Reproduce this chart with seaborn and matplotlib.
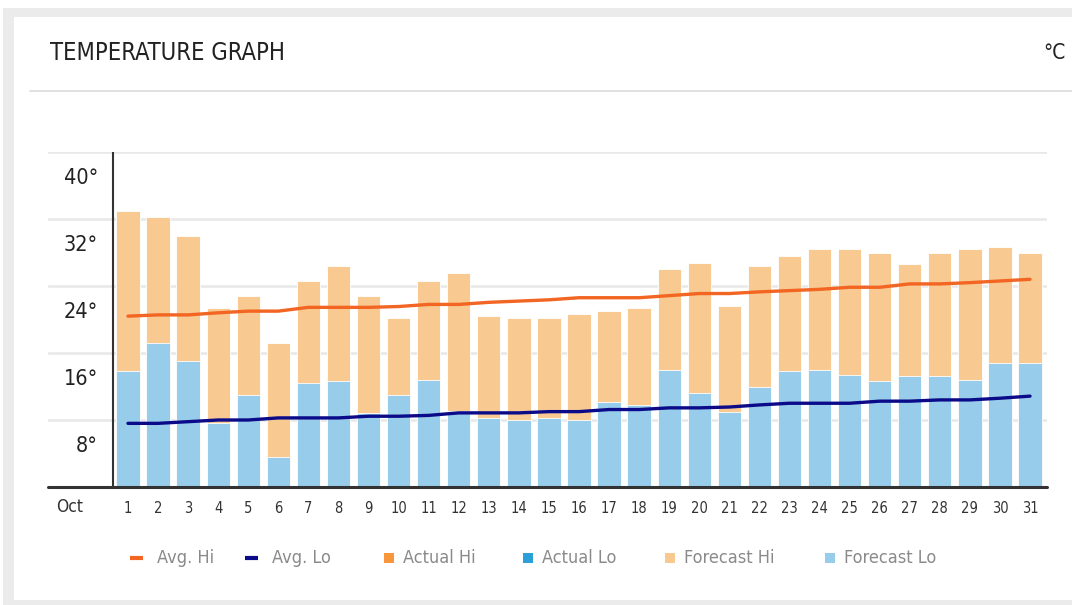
import matplotlib
matplotlib.use("Agg")
import matplotlib.pyplot as plt
import matplotlib.transforms as mtransforms
from matplotlib.patches import Rectangle
import pandas as pd
import seaborn as sns

days = list(range(1, 32))
forecast_hi = [33.0, 32.2, 30.0, 21.4, 22.8, 17.2, 24.6, 26.4, 22.8, 20.2,
               24.6, 25.6, 20.4, 20.2, 20.2, 20.6, 21.0, 21.4, 26.0, 26.8,
               21.6, 26.4, 27.6, 28.4, 28.4, 28.0, 26.6, 28.0, 28.4, 28.6, 28.0]
forecast_lo = [13.8, 17.2, 15.0, 7.7, 11.0, 3.6, 12.4, 12.6, 8.8, 11.0,
               12.8, 9.1, 8.2, 8.0, 8.2, 8.0, 10.2, 9.8, 14.0, 11.2,
               9.0, 12.0, 13.8, 14.0, 13.4, 12.6, 13.2, 13.2, 12.8, 14.8, 14.8]
avg_hi = [20.4, 20.55, 20.55, 20.8, 21.0, 21.0, 21.45, 21.45, 21.45, 21.55,
          21.8, 21.8, 22.05, 22.2, 22.35, 22.6, 22.6, 22.6, 22.85, 23.1,
          23.1, 23.3, 23.45, 23.6, 23.85, 23.85, 24.25, 24.25, 24.4, 24.6, 24.8]
avg_lo = [7.6, 7.6, 7.8, 8.0, 8.0, 8.25, 8.25, 8.25, 8.45, 8.45,
          8.55, 8.85, 8.85, 8.85, 9.0, 9.0, 9.25, 9.25, 9.45, 9.45,
          9.55, 9.8, 10.0, 10.0, 10.0, 10.25, 10.25, 10.4, 10.4, 10.6, 10.85]
y_ticks = [8, 16, 24, 32, 40]

legend_items = [("line", "#f26522", "Avg. Hi"), ("line", "#0b0b8a", "Avg. Lo"),
                ("box", "#f7963c", "Actual Hi"), ("box", "#2b9fd8", "Actual Lo"),
                ("box", "#f8c990", "Forecast Hi"), ("box", "#97cdea", "Forecast Lo")]

sns.set_theme(style="white")
plt.rcParams["font.family"] = ["DejaVu Sans"]
plt.rcParams["font.stretch"] = "condensed"

df = pd.DataFrame({"day": days, "hi": forecast_hi, "lo": forecast_lo,
                   "avg_hi": avg_hi, "avg_lo": avg_lo})

W, H = 1072, 605
fig = plt.figure(figsize=(W / 100, H / 100), dpi=100, facecolor="white")

# page background + white card
fig.patches.append(Rectangle((3 / W, 0), 1, 1 - 8 / H, transform=fig.transFigure,
                             facecolor="#ebebeb", edgecolor="none", zorder=-3))
fig.patches.append(Rectangle((14 / W, 1 - 600 / H), 1, (600 - 17) / H, transform=fig.transFigure,
                             facecolor="white", edgecolor="none", zorder=-2))
fig.add_artist(plt.Line2D([30 / W, 1], [1 - 91 / H, 1 - 91 / H], transform=fig.transFigure,
                          color="#dcdcdc", lw=1.2))
fig.text(50 / W, 1 - 53 / H, "TEMPERATURE GRAPH", fontsize=17, color="#222222", va="center")
fig.text(1066 / W, 1 - 53 / H, "°C", fontsize=15, color="#222222", va="center", ha="right")

ax = fig.add_axes([48 / W, 1 - 487 / H, 999 / W, 335 / H])
ax.set_facecolor("none")

sns.barplot(data=df, x="day", y="hi", native_scale=True, width=0.776, color="#f8c990",
            saturation=1, edgecolor="white", linewidth=0.6, ax=ax, zorder=2)
sns.barplot(data=df, x="day", y="lo", native_scale=True, width=0.776, color="#97cdea",
            saturation=1, edgecolor="white", linewidth=0.6, ax=ax, zorder=3)
sns.lineplot(data=df, x="day", y="avg_hi", color="#f26522", lw=2.4, ax=ax, zorder=5)
sns.lineplot(data=df, x="day", y="avg_lo", color="#0b0b8a", lw=2.4, ax=ax, zorder=5)

ax.set_xlim(-1.66, 31.565)
ax.set_ylim(0, 40)
for v in y_ticks:
    ax.axhline(v, color="#e8e8e8", lw=1.8, zorder=1)
    ax.text(0.0, v - 3.1, f"{v}°", ha="right", va="center", fontsize=15.5, color="#222222")
ax.axhline(0, color="#333333", lw=2.2, zorder=6, clip_on=False)
ax.axvline(0.5, color="#333333", lw=1.5, zorder=6)

for s in ax.spines.values():
    s.set_visible(False)
ax.set_yticks([])
ax.set_xticks(days)
ax.set_xticklabels([str(d) for d in days], fontsize=10.5, color="#333333")
ax.tick_params(axis="x", length=0, pad=10)
ax.set_xlabel("")
ax.set_ylabel("")
trans = mtransforms.blended_transform_factory(ax.transData, fig.transFigure)
ax.text(-0.93, 1 - 507 / H, "Oct", transform=trans, ha="center", va="center",
        fontsize=12.5, color="#333333")

# legend row
ly = 1 - 558 / H
starts = [130, 245, 384, 523, 665, 825]
for (kind, col, label), x0 in zip(legend_items, starts):
    if kind == "line":
        fig.add_artist(plt.Line2D([x0 / W, (x0 + 13) / W], [ly, ly], transform=fig.transFigure,
                                  color=col, lw=3, solid_capstyle="butt"))
        tx = x0 + 27
    else:
        fig.patches.append(Rectangle((x0 / W, ly - 5 / H), 10 / W, 10 / H, transform=fig.transFigure,
                                     facecolor=col, edgecolor="none"))
        tx = x0 + 19
    fig.text(tx / W, ly, label, fontsize=13, color="#8a8a8a", va="center")

fig.savefig("out.png", dpi=100)
